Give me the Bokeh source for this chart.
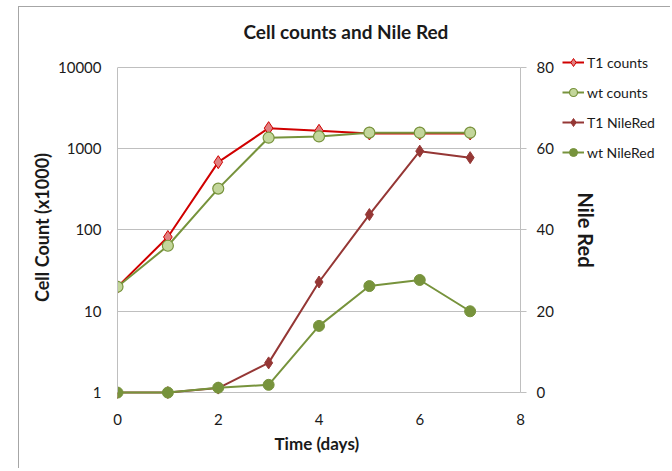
import math
from bokeh.plotting import figure
from bokeh.models import (Range1d, LinearAxis, LinearScale, FixedTicker, PrintfTickFormatter,
                          Legend, LegendItem, Title)
from bokeh.core.properties import value
from bokeh.embed import file_html
from bokeh.resources import INLINE

# ---- data ----
days = [0, 1, 2, 3, 4, 5, 6, 7]
t1_counts = [20, 82, 683, 1790, 1660, 1540, 1540, 1540]
wt_counts = [20, 64, 323, 1365, 1415, 1575, 1575, 1575]
t1_nilered = [0, 0, 1.1, 7.3, 27.2, 43.8, 59.4, 57.8]
wt_nilered = [0, 0, 1.2, 1.9, 16.4, 26.2, 27.7, 20.0]

count_ticks = [1, 10, 100, 1000, 10000]
nr_ticks = [0, 20, 40, 60, 80]
nr_labels = [str(t) for t in nr_ticks]
day_ticks = [0, 2, 4, 6, 8]

FONT = "Lato"
GRAY = "#bfbfbf"
TXT = "#1a1a1a"

# ---- layout constants (pixels) ----
# plotted area: days 0..8 over 403 px, 1..10000 (0..80) over 327 px.
# The frame is padded on the right, top and bottom so that the legend and the
# right-hand labels (drawn inside the frame) are not clipped.
PX_PER_DAY = 403 / 8
FRAME_PX = 542
X_END = FRAME_PX / PX_PER_DAY
PLOT_H = 327
PAD_TOP = 15
PAD_BOTTOM = 10
DEC_PX = PLOT_H / 4          # pixels per decade on the log axis
NR_PX = PLOT_H / 80          # pixels per Nile Red unit

y_lo = 10 ** (-PAD_BOTTOM / DEC_PX)
y_hi = 10 ** (4 + PAD_TOP / DEC_PX)
nr_lo = -PAD_BOTTOM / NR_PX
nr_hi = 80 + PAD_TOP / NR_PX

p = figure(width=652, height=462, output_backend="svg", toolbar_location=None,
           y_axis_type="log", x_range=Range1d(0, X_END), y_range=Range1d(y_lo, y_hi),
           min_border_left=98, min_border_right=12, min_border_top=43,
           min_border_bottom=67, margin=(6, 0, 0, 18))
p.styles = {"border-top": "1px solid #a6a6a6", "border-left": "1px solid #a6a6a6"}
p.outline_line_color = None
p.background_fill_color = "white"
p.border_fill_color = "white"

title = Title(text="Cell counts and Nile Red", align="left", offset=126,
              text_font=FONT, text_font_size="19px", text_font_style="bold",
              text_color=TXT, standoff=20)
p.add_layout(title, "above")

p.extra_y_ranges = {"nr": Range1d(nr_lo, nr_hi)}
p.extra_y_scales = {"nr": LinearScale()}

# x axis: labels only (the grid line at count = 1 forms the base line)
xa = p.xaxis[0]
xa.ticker = FixedTicker(ticks=day_ticks)
xa.bounds = (day_ticks[0], day_ticks[-1])
xa.axis_line_color = None
xa.major_tick_out = 0
xa.major_tick_in = 0
xa.minor_tick_line_color = None
xa.major_label_standoff = 11
xa.major_label_text_font = FONT
xa.major_label_text_font_size = "15px"
xa.major_label_text_color = TXT

xtitle = Title(text="Time (days)", align="left", offset=157, text_font=FONT,
               text_font_size="17px", text_font_style="bold", text_color=TXT,
               standoff=6)
p.add_layout(xtitle, "below")

# left axis
ya = p.yaxis[0]
ya.ticker = FixedTicker(ticks=count_ticks)
ya.bounds = (count_ticks[0], count_ticks[-1])
ya.formatter = PrintfTickFormatter(format="%d")
ya.axis_label = "Cell Count (x1000)"
ya.axis_line_color = GRAY
ya.major_tick_out = 0
ya.major_tick_in = 0
ya.minor_tick_line_color = None
ya.major_label_standoff = 16
ya.axis_label_standoff = 2
ya.major_label_text_font = FONT
ya.major_label_text_font_size = "15px"
ya.major_label_text_color = TXT
ya.axis_label_text_font = FONT
ya.axis_label_text_font_size = "18px"
ya.axis_label_text_font_style = "bold"
ya.axis_label_text_color = TXT

# right axis: line + outward ticks fixed at day 8; its labels are drawn as text
ra = LinearAxis(y_range_name="nr", ticker=FixedTicker(ticks=nr_ticks),
                fixed_location=day_ticks[-1], bounds=(nr_ticks[0], nr_ticks[-1]),
                major_label_overrides={t: "" for t in nr_ticks})
ra.axis_line_color = GRAY
ra.major_tick_line_color = GRAY
ra.major_tick_out = 6
ra.major_tick_in = 0
ra.minor_tick_line_color = None
ra.major_label_standoff = 0
p.add_layout(ra, "right")

p.text(x=[day_ticks[-1]] * len(nr_ticks), y=nr_ticks, text=nr_labels,
       x_offset=16, text_align="left", text_baseline="middle",
       text_font=value(FONT), text_font_size="15px", text_color=TXT,
       y_range_name="nr")
p.text(x=[day_ticks[-1]], y=[nr_ticks[2]], text=["Nile Red"], x_offset=65,
       angle=-math.pi / 2, text_align="center", text_baseline="middle",
       text_font=value(FONT), text_font_size="20px", text_font_style="bold",
       text_color=TXT, y_range_name="nr")

# horizontal grid lines, stopping at the right axis
p.xgrid.grid_line_color = None
g = p.ygrid[0]
g.ticker = FixedTicker(ticks=count_ticks)
if "cross_bounds" in g.properties():
    g.cross_bounds = (day_ticks[0], day_ticks[-1])
    g.grid_line_color = GRAY
else:
    g.grid_line_color = None
    p.segment(x0=[day_ticks[0]] * len(count_ticks), y0=count_ticks,
              x1=[day_ticks[-1]] * len(count_ticks), y1=count_ticks,
              line_color=GRAY, line_width=1)

# series
RED = "#d00000"
RED_FILL = "#e08080"
DRED = "#953735"
GREEN = "#77933c"
LGREEN = "#c3d69b"

l1 = p.line(days, t1_counts, line_color=RED, line_width=2)
m1 = p.scatter(days, t1_counts, marker="diamond", size=13, fill_color=RED_FILL,
               line_color=RED, line_width=1)
l2 = p.line(days, wt_counts, line_color=GREEN, line_width=2)
m2 = p.scatter(days, wt_counts, marker="circle", size=11, fill_color=LGREEN,
               line_color=GREEN, line_width=1.2)
l3 = p.line(days, t1_nilered, line_color=DRED, line_width=2, y_range_name="nr")
m3 = p.scatter(days, t1_nilered, marker="diamond", size=12, fill_color=DRED,
               line_color=DRED, y_range_name="nr")
l4 = p.line(days, wt_nilered, line_color=GREEN, line_width=2, y_range_name="nr")
m4 = p.scatter(days, wt_nilered, marker="circle", size=11, fill_color=GREEN,
               line_color=GREEN, y_range_name="nr")

legend = Legend(items=[
    LegendItem(label="T1 counts", renderers=[l1, m1]),
    LegendItem(label="wt counts", renderers=[l2, m2]),
    LegendItem(label="T1 NileRed", renderers=[l3, m3]),
    LegendItem(label="wt NileRed", renderers=[l4, m4]),
], location=(445, 240), orientation="vertical")
legend.background_fill_alpha = 0
legend.border_line_color = None
legend.padding = 0
legend.margin = 0
legend.spacing = 10
legend.glyph_width = 22
legend.glyph_height = 20
legend.label_height = 20
legend.label_standoff = 3
legend.label_text_font = FONT
legend.label_text_font_size = "14px"
legend.label_text_color = TXT
p.add_layout(legend, "center")

open("out.html", "w").write(file_html(p, INLINE))
